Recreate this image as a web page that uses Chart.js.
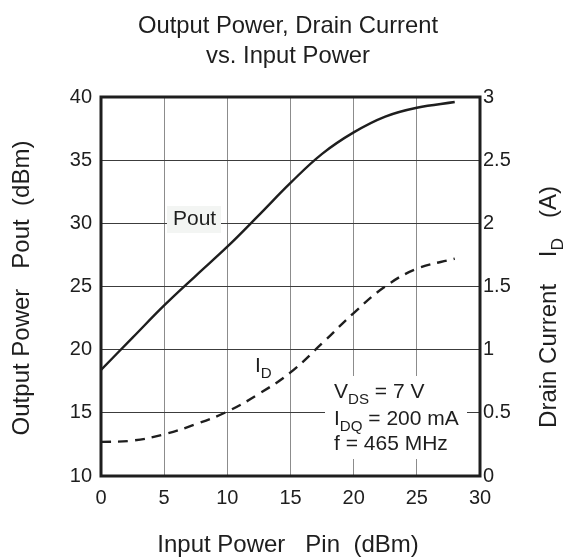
<!DOCTYPE html>
<html>
<head>
<meta charset="utf-8">
<script src="https://cdn.jsdelivr.net/npm/chart.js@4/dist/chart.umd.min.js"></script>
<style>
html,body{margin:0;padding:0;background:#fff}
#wrap{width:566px;height:558px}
</style>
</head>
<body>
<div id="wrap"><canvas id="grafica" width="566" height="558"></canvas></div>
<script>

// valores
const pinPout = [0, 2.5, 5, 7.5, 10, 12.5, 15, 17.5, 20, 22.5, 25, 28]
const poutDbm = [18.4, 20.95, 23.5, 25.85, 28.15, 30.65, 33.2, 35.5, 37.2, 38.45, 39.15, 39.6]

const pinId = [0, 2.5, 5, 7.5, 10, 12.5, 15, 17.5, 20, 22.5, 25, 28]
const idAmps = [0.27, 0.28, 0.33, 0.41, 0.51, 0.65, 0.82, 1.05, 1.29, 1.5, 1.64, 1.72]

const pinTicks = [0, 5, 10, 15, 20, 25, 30]
const poutTicks = [10, 15, 20, 25, 30, 35, 40]
const idTicks = [0, 0.5, 1, 1.5, 2, 2.5, 3]

const FONT = '"Liberation Sans", Arial, sans-serif'
const INK = "#1e1e1e"

function puntos(xs, ys){
return xs.map((x,i)=>({x:x, y:ys[i]}))
}

function medir(ctx, partes, size){
let w = 0
partes.forEach(p=>{
ctx.font = (p.sub ? size*0.72 : size) + "px " + FONT
w += ctx.measureText(p.t).width
})
return w
}

function escribir(ctx, partes, x, y, size){
let cx = x
partes.forEach(p=>{
const fs = p.sub ? size*0.72 : size
ctx.font = fs + "px " + FONT
ctx.fillText(p.t, cx, y + (p.sub ? size*0.28 : 0))
cx += ctx.measureText(p.t).width
})
}

const textos = {
id: "textos",
afterDraw(chart){
const ctx = chart.ctx
const a = chart.chartArea
ctx.save()
ctx.fillStyle = INK
ctx.textBaseline = "alphabetic"

// titulo
ctx.textAlign = "center"
ctx.font = "23.8px " + FONT
ctx.fillText("Output Power, Drain Current", 288, 33)
ctx.fillText("vs. Input Power", 288, 63)

// eje x
ctx.font = "24px " + FONT
ctx.fillText("Input Power   Pin  (dBm)", 288, 552)

// eje izquierdo
ctx.save()
ctx.translate(29, 288)
ctx.rotate(-Math.PI/2)
ctx.fillText("Output Power   Pout  (dBm)", 0, 0)
ctx.restore()

// eje derecho
ctx.save()
ctx.translate(556, 307)
ctx.rotate(-Math.PI/2)
ctx.textAlign = "left"
const der = [{t:"Drain Current    I"},{t:"D",sub:true},{t:"   (A)"}]
const wd = medir(ctx, der, 24)
escribir(ctx, der, -wd/2, 0, 24)
ctx.restore()

// etiqueta Pout
ctx.textAlign = "left"
ctx.fillStyle = "#f3f5f3"
ctx.fillRect(167, 206, 54, 27)
ctx.fillStyle = INK
ctx.font = "21px " + FONT
ctx.fillText("Pout", 173, 225)

// etiqueta ID
escribir(ctx, [{t:"I"},{t:"D",sub:true}], 255, 372, 21)

// condiciones
ctx.fillStyle = "#ffffff"
ctx.fillRect(325, 376, 142, 83)
ctx.fillStyle = INK
escribir(ctx, [{t:"V"},{t:"DS",sub:true},{t:" = 7 V"}], 334, 398, 21)
escribir(ctx, [{t:"I"},{t:"DQ",sub:true},{t:" = 200 mA"}], 334, 425, 21)
escribir(ctx, [{t:"f = 465 MHz"}], 334, 450, 21)

// marco
ctx.strokeStyle = INK
ctx.lineWidth = 3
ctx.strokeRect(a.left, a.top, a.right - a.left, a.bottom - a.top)
ctx.restore()
}
}

new Chart(document.getElementById("grafica"),{

type:"line",

data:{
datasets:[{
label:"Pout",
data:puntos(pinPout, poutDbm),
yAxisID:"y",
borderColor:INK,
borderWidth:2.4,
pointRadius:0,
tension:0.4,
fill:false
},{
label:"ID",
data:puntos(pinId, idAmps),
yAxisID:"y1",
borderColor:INK,
borderWidth:2.4,
borderDash:[10,7],
pointRadius:0,
tension:0.4,
fill:false
}]
},

options:{
responsive:false,
animation:false,
layout:{padding:{top:97,left:0,right:0,bottom:0}},
plugins:{legend:{display:false},tooltip:{enabled:false},title:{display:false}},
scales:{
x:{
type:"linear",
min:0,max:30,
afterBuildTicks:s=>{ s.ticks = pinTicks.map(v=>({value:v})) },
afterFit:s=>{ s.height = 82 },
grid:{color:"#8c8c8c",lineWidth:1,drawTicks:false},
border:{display:false},
ticks:{color:INK,padding:10,font:{family:FONT,size:20},maxRotation:0,callback:v=>String(v)}
},
y:{
position:"left",
min:10,max:40,
afterBuildTicks:s=>{ s.ticks = poutTicks.map(v=>({value:v})) },
afterFit:s=>{ s.width = 101 },
grid:{color:"#3c3c3c",lineWidth:1,drawTicks:false},
border:{display:false},
ticks:{color:INK,padding:9,font:{family:FONT,size:20},callback:v=>String(v)}
},
y1:{
position:"right",
min:0,max:3,
afterBuildTicks:s=>{ s.ticks = idTicks.map(v=>({value:v})) },
afterFit:s=>{ s.width = 86 },
grid:{display:false,drawTicks:false},
border:{display:false},
ticks:{color:INK,padding:3,font:{family:FONT,size:20},callback:v=>String(v)}
}
}
},

plugins:[textos]

})

</script>
</body>
</html>
